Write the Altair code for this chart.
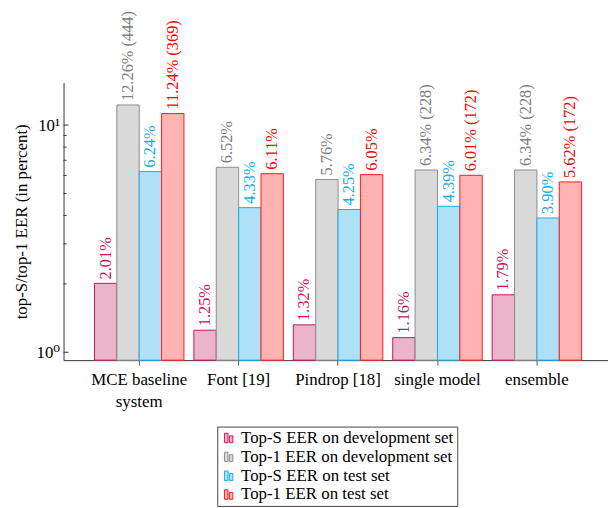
import altair as alt
import pandas as pd

categories = ["MCE baseline system", "Font [19]", "Pindrop [18]", "single model", "ensemble"]
series_names = ["Top-S EER on development set", "Top-1 EER on development set",
                "Top-S EER on test set", "Top-1 EER on test set"]
top_s_dev = [2.01, 1.25, 1.32, 1.16, 1.79]
top_1_dev = [12.26, 6.52, 5.76, 6.34, 6.34]
top_s_test = [6.24, 4.33, 4.25, 4.39, 3.90]
top_1_test = [11.24, 6.11, 6.05, 6.01, 5.62]
top_1_dev_counts = [444, None, None, 228, 228]
top_1_test_counts = [369, None, None, 172, 172]

fills = ["#eab4c9", "#d9d9d9", "#aee0f7", "#ffb3b3"]
strokes = ["#c8145a", "#8c8c8c", "#14aee8", "#ff1a1a"]
label_colors = ["#c8145a", "#808080", "#14aee8", "#ff0000"]

major_ticks = [1, 10]
minor_ticks = [2, 3, 4, 5, 6, 7, 8, 9]
y_min, y_max = 0.923, 15.4

FONT = "Liberation Serif, Times New Roman, Times, DejaVu Serif, serif"
FS = 17

rows = []
all_series = [top_s_dev, top_1_dev, top_s_test, top_1_test]
all_counts = [[None] * 5, top_1_dev_counts, [None] * 5, top_1_test_counts]
for si, (name, vals, counts) in enumerate(zip(series_names, all_series, all_counts)):
    for ci, cat in enumerate(categories):
        v = vals[ci]
        c = counts[ci]
        lab = f"{v:.2f}%" + (f" ({c})" if c is not None else "")
        rows.append({"category": cat, "series": name, "value": v, "label": lab,
                     "lc": label_colors[si]})
df = pd.DataFrame(rows)

yscale = alt.Scale(type="log", domain=[y_min, y_max], nice=False)
xscale = alt.Scale(paddingInner=0.1, paddingOuter=0.288, align=0.54)
xoff = alt.XOffset("series:N", sort=series_names, scale=alt.Scale(paddingInner=0, paddingOuter=0))

legend_symbol = "M-0.9,-1H-0.15V1H-0.9Z M0.15,-0.45H0.9V1H0.15Z"
leg = alt.Legend(orient="none", legendX=155, legendY=347, direction="vertical", title=None,
                 strokeColor="#444", padding=3, labelFontSize=FS, labelFont=FONT,
                 labelColor="black", symbolType=legend_symbol, symbolSize=90,
                 symbolStrokeWidth=1, rowPadding=1, labelOffset=4, labelLimit=400)

x_enc = alt.X("category:N", sort=categories, scale=xscale, title=None,
              axis=alt.Axis(labelAngle=0, labelFontSize=FS, labelFont=FONT,
                            labelColor="black", labelPadding=7, labelLineHeight=22,
                            tickSize=5, tickColor="#555", domainColor="#333",
                            labelExpr="datum.label == 'MCE baseline system' ? ['MCE baseline', 'system'] : datum.label"))

bars = alt.Chart(df).mark_bar(strokeWidth=1).encode(
    x=x_enc,
    xOffset=xoff,
    y=alt.Y("value:Q", scale=yscale, title="top-S/top-1 EER (in percent)",
            axis=alt.Axis(values=major_ticks, ticks=False, grid=False, labelFontSize=FS,
                          labelFont=FONT, labelColor="black", labelPadding=4,
                          domainColor="#333", titleFontSize=FS, titleFont=FONT,
                          titleFontWeight="normal", titleColor="black", titlePadding=6,
                          labelExpr="datum.value == 1 ? '10\u2070' : '10\u00b9'")),
    y2=alt.Y2(datum=y_min),
    fill=alt.Fill("series:N", sort=series_names,
                  scale=alt.Scale(domain=series_names, range=fills), legend=leg),
    stroke=alt.Stroke("series:N", sort=series_names,
                      scale=alt.Scale(domain=series_names, range=strokes), legend=leg),
)

texts = alt.Chart(df).mark_text(angle=270, align="left", baseline="middle", dx=4,
                                font=FONT, fontSize=16.5).encode(
    x=alt.X("category:N", sort=categories, scale=xscale),
    xOffset=xoff,
    y=alt.Y("value:Q", scale=yscale),
    text="label:N",
    color=alt.Color("lc:N", scale=None),
)

major_df = pd.DataFrame({"v": major_ticks})
minor_df = pd.DataFrame({"v": minor_ticks})
major_rules = alt.Chart(major_df).mark_rule(color="#333", strokeWidth=1).encode(
    y=alt.Y("v:Q", scale=yscale), x=alt.value(0), x2=alt.value(5))
minor_rules = alt.Chart(minor_df).mark_rule(color="#333", strokeWidth=1).encode(
    y=alt.Y("v:Q", scale=yscale), x=alt.value(0), x2=alt.value(3))

chart = alt.layer(bars, texts, major_rules, minor_rules).properties(
    width=549, height=280,
    padding={"left": 4, "top": 0, "right": 0, "bottom": 0},
).configure_view(strokeWidth=0)

chart.save("out.html", embed_options={"renderer": "svg", "actions": False})
